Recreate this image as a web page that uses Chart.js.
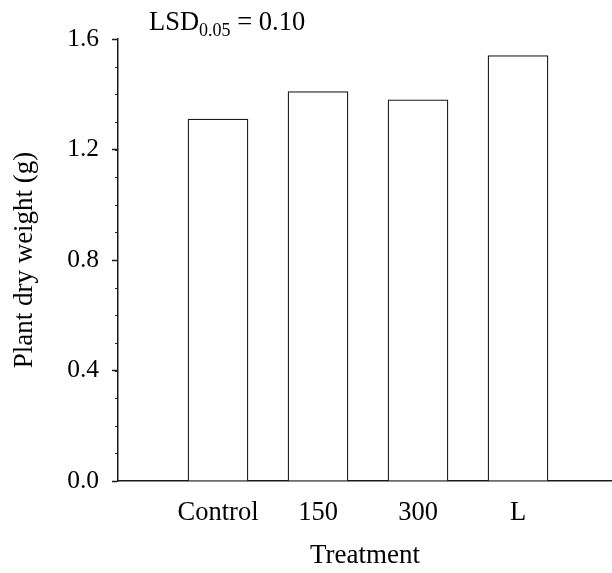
<!DOCTYPE html>
<html lang="en">
  <head>
    <meta charset="UTF-8" />
    <title>Plant dry weight by treatment</title>
    <script src="https://cdn.jsdelivr.net/npm/chart.js"></script>
    <style>
      body {
        margin: 0;
        padding: 0;
        background: #fff;
      }
      canvas {
        display: block;
      }
    </style>
  </head>
  <body>
    <canvas id="chart1" width="612" height="573"></canvas>

    <script>
      // data
      const categories = ["Control", "150", "300", "L"];
      const dryWeight = [1.31, 1.41, 1.38, 1.54];
      const yTicks = [0, 0.4, 0.8, 1.2, 1.6];
      const yTickLabels = ["0.0", "0.4", "0.8", "1.2", "1.6"];
      const yMinorStep = 0.1;
      const lsdLabel = ["LSD", "0.05", " = 0.10"];

      const serif = '"Liberation Serif", "Times New Roman", serif';

      // minor ticks on the y axis + the LSD note at the top
      const extras = {
        id: "extras",
        afterDraw(chart) {
          const ctx = chart.ctx;
          const y = chart.scales.y;
          const left = chart.chartArea.left;
          ctx.save();
          ctx.strokeStyle = "#222";
          ctx.lineWidth = 1;
          for (let v = y.min; v <= y.max + 1e-9; v += yMinorStep) {
            const py = Math.round(y.getPixelForValue(v)) + 0.5;
            ctx.beginPath();
            ctx.moveTo(left - 3, py);
            ctx.lineTo(left, py);
            ctx.stroke();
          }

          ctx.fillStyle = "#000";
          ctx.textBaseline = "alphabetic";
          let x = left + 31;
          ctx.font = "26.5px " + serif;
          ctx.fillText(lsdLabel[0], x, 30);
          x += ctx.measureText(lsdLabel[0]).width;
          ctx.font = "18px " + serif;
          ctx.fillText(lsdLabel[1], x, 36);
          x += ctx.measureText(lsdLabel[1]).width;
          ctx.font = "26.5px " + serif;
          ctx.fillText(lsdLabel[2], x, 30);
          ctx.restore();
        },
      };

      new Chart(document.getElementById("chart1"), {
        type: "bar",
        data: {
          datasets: [
            {
              data: dryWeight.map((v, i) => ({ x: i + 1, y: v })),
              backgroundColor: "#fff",
              borderColor: "#1a1a1a",
              borderWidth: 1.3,
              barThickness: 60,
            },
          ],
        },
        options: {
          responsive: false,
          animation: false,
          layout: { padding: { top: 39, right: 0, left: 0, bottom: 0 } },
          plugins: {
            legend: { display: false },
            tooltip: { enabled: false },
          },
          scales: {
            x: {
              type: "linear",
              offset: false,
              min: 0,
              max: 4.94,
              afterFit: (scale) => {
                scale.height = 92;
                // axis runs right up to the edge of the figure
                scale.paddingLeft = 0;
                scale.paddingRight = 0;
              },
              grid: { display: false },
              border: { display: true, color: "#1a1a1a", width: 1.5 },
              ticks: {
                stepSize: 1,
                autoSkip: false,
                maxRotation: 0,
                padding: 8,
                color: "#000",
                font: { family: serif, size: 26.5 },
                callback: (v) => categories[v - 1] || "",
              },
              title: {
                display: true,
                text: "Treatment",
                color: "#000",
                font: { family: serif, size: 27 },
                padding: { top: 0, bottom: 1 },
              },
            },
            y: {
              min: 0,
              max: 1.6,
              afterFit: (scale) => {
                scale.width = 118;
              },
              afterBuildTicks: (scale) => {
                scale.ticks = yTicks.map((v) => ({ value: v }));
              },
              grid: {
                drawOnChartArea: false,
                drawTicks: true,
                tickLength: 6,
                tickColor: "#1a1a1a",
                tickWidth: 1.5,
              },
              border: { display: true, color: "#1a1a1a", width: 1.5 },
              ticks: {
                padding: 13,
                color: "#000",
                font: { family: serif, size: 25.5 },
                callback: (v, i) => yTickLabels[i],
              },
              title: {
                display: true,
                text: "Plant dry weight (g)",
                color: "#000",
                font: { family: serif, size: 27 },
                padding: { top: 9, bottom: 0 },
              },
            },
          },
        },
        plugins: [extras],
      });
    </script>
  </body>
</html>
